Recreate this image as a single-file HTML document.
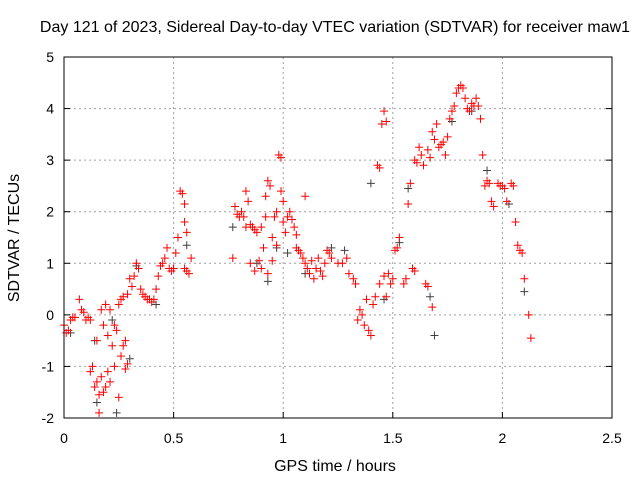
<!DOCTYPE html>
<html><head><meta charset="utf-8"><style>
body{margin:0;background:#fff;}
svg{display:block;font-family:"Liberation Sans",sans-serif;}
</style></head><body>
<svg id="chart" width="640" height="480" xmlns="http://www.w3.org/2000/svg">
<rect width="640" height="480" fill="#fff"/>
<g id="grid"></g>
<g id="ticks"></g>
<g id="series"></g>
<rect x="64" y="57" width="548" height="361" fill="none" stroke="#000" stroke-width="1"/>
<text x="335" y="32" font-size="16" text-anchor="middle">Day 121 of 2023, Sidereal Day-to-day VTEC variation (SDTVAR) for receiver maw1</text>
<text x="335" y="471" font-size="16" text-anchor="middle">GPS time / hours</text>
<text x="0" y="0" font-size="16" text-anchor="middle" transform="translate(19,238) rotate(-90)">SDTVAR / TECUs</text>
</svg>
<script>
const xTicks=[0,0.5,1,1.5,2,2.5];
const xTickLabels=["0","0.5","1","1.5","2","2.5"];
const yTicks=[-2,-1,0,1,2,3,4,5];
const yTickLabels=["-2","-1","0","1","2","3","4","5"];
const redX=[0,0.01,0.02,0.03,0.04,0.05,0.07,0.08,0.09,0.1,0.11,0.12,0.12,0.13,0.14,0.15,0.15,0.16,0.16,0.17,0.17,0.18,0.18,0.19,0.19,0.2,0.2,0.21,0.21,0.22,0.23,0.23,0.24,0.25,0.25,0.26,0.26,0.27,0.27,0.28,0.28,0.29,0.29,0.3,0.31,0.32,0.33,0.34,0.35,0.36,0.37,0.38,0.39,0.4,0.41,0.42,0.43,0.44,0.45,0.46,0.47,0.48,0.49,0.5,0.51,0.52,0.53,0.54,0.55,0.55,0.56,0.55,0.56,0.57,0.58,
0.77,0.78,0.79,0.8,0.81,0.82,0.83,0.83,0.84,0.85,0.85,0.86,0.87,0.87,0.88,0.89,0.9,0.9,0.91,0.92,0.92,0.93,0.93,0.94,0.95,0.95,0.96,0.97,0.97,0.98,0.99,0.99,1.0,1.0,1.01,1.02,1.03,1.04,1.05,1.06,1.06,1.07,1.08,1.09,1.1,1.1,1.11,1.12,1.13,1.14,1.15,1.16,1.17,1.18,1.19,1.2,1.21,1.22,1.25,1.27,1.29,1.3,1.32,1.33,
1.34,1.35,1.36,1.37,1.38,1.39,1.4,1.41,1.42,1.43,1.44,1.44,1.45,1.46,1.46,1.47,1.47,1.48,1.49,1.5,1.51,1.52,1.53,1.55,1.56,1.57,1.58,1.59,1.6,1.6,1.61,1.62,1.63,1.64,1.65,1.66,1.66,1.67,1.68,1.69,1.68,1.7,1.71,1.72,1.73,1.74,1.75,1.76,1.77,1.78,1.79,1.8,1.81,1.82,1.83,1.84,1.85,1.86,1.87,1.88,1.89,1.9,1.91,1.92,1.93,1.94,1.95,1.96,1.98,1.99,2.0,2.01,2.02,2.04,2.05,2.06,2.07,2.08,2.09,2.1,2.12,2.13];
const redY=[-0.2,-0.35,-0.3,-0.1,-0.05,-0.05,0.3,0.1,0.05,-0.1,-0.05,-1.1,-0.1,-1.0,-1.4,-0.5,-1.3,-1.9,-1.55,-1.2,0.1,-0.2,-1.5,0.2,-1.4,-1.1,-0.4,0.1,-1.3,-0.6,-0.2,-1.0,-0.3,-1.6,0.2,-0.8,0.3,-0.6,0.35,-1.05,-0.5,0.4,-0.95,0.7,0.55,0.75,1.0,0.9,0.5,0.4,0.35,0.3,0.3,0.25,0.3,0.5,0.75,0.95,1.0,1.1,1.3,0.9,0.85,0.9,1.2,1.5,2.4,2.35,2.15,1.8,1.6,0.9,0.85,0.8,1.1,
1.1,2.1,1.95,1.9,2.0,1.9,2.4,1.7,2.2,1.75,1.0,1.7,1.65,0.85,1.6,1.05,1.7,0.9,1.3,2.3,1.9,2.6,0.8,2.5,1.5,1.05,1.9,2.0,1.35,3.1,3.05,2.4,2.2,1.8,1.6,1.9,2.0,1.85,1.7,1.3,1.55,1.25,1.2,1.1,2.3,1.0,0.9,0.8,1.05,0.7,0.9,1.1,0.85,0.75,1.0,1.25,1.2,1.1,1.0,1.0,1.1,0.8,0.7,0.6,
-0.1,0.1,0.0,-0.2,0.3,-0.3,-0.4,0.2,0.35,2.9,2.85,0.6,3.7,3.95,0.75,3.75,0.35,0.8,0.6,0.7,1.25,1.3,1.5,0.6,0.7,2.15,2.55,0.9,0.85,3.0,2.95,3.25,3.1,2.9,0.6,0.55,3.2,3.05,3.55,3.4,0.15,3.7,3.25,3.3,3.35,3.1,3.45,3.8,3.95,4.05,4.3,4.4,4.45,4.4,4.2,4.0,3.95,4.1,4.05,4.2,4.05,3.8,3.1,2.5,2.6,2.55,2.2,2.1,2.55,2.5,2.5,2.45,2.2,2.55,2.5,1.8,1.35,1.25,1.2,0.7,0.0,-0.45];
const greyX=[0.03,0.14,0.15,0.22,0.24,0.3,0.33,0.42,0.5,0.56,0.77,0.88,0.93,0.97,1.02,1.1,1.22,1.28,1.4,1.46,1.53,1.57,1.67,1.69,1.77,1.86,1.93,2.03,2.1];
const greyY=[-0.35,-0.5,-1.7,-0.1,-1.9,-0.85,0.95,0.2,0.9,1.35,1.7,1.0,0.65,1.3,1.2,0.8,1.3,1.25,2.55,0.3,1.4,2.45,0.35,-0.4,3.75,3.95,2.8,2.15,0.45];
const L=64,R=612,T=57,B=418;
function sx(v){return L+(v-0)/(2.5-0)*(R-L);}
function sy(v){return B-(v+2)/(5+2)*(B-T);}
const NS="http://www.w3.org/2000/svg";
function mk(tag,attrs,parent){const e=document.createElementNS(NS,tag);for(const k in attrs)e.setAttribute(k,attrs[k]);parent.appendChild(e);return e;}
const grid=document.getElementById('grid'),ticks=document.getElementById('ticks'),ser=document.getElementById('series');
xTicks.forEach((t,i)=>{const x=sx(t);
 if(i>0&&i<xTicks.length-1){const g=mk('line',{x1:x,x2:x,y1:T,y2:B,stroke:'#a0a0a0','stroke-dasharray':'2,3'},grid);
 
 }
 const tk=mk('line',{x1:x,x2:x,y1:B,y2:B-6,stroke:'#000'},ticks);
 
 
 const tx=mk('text',{x:x,y:B+25,'font-size':14,'text-anchor':'middle'},ticks);tx.textContent=xTickLabels[i];
 
 });
yTicks.forEach((t,i)=>{const y=sy(t);
 if(i>0&&i<yTicks.length-1){const g=mk('line',{x1:L,x2:R,y1:y,y2:y,stroke:'#a0a0a0','stroke-dasharray':'2,3'},grid);
 
 }
 const tk=mk('line',{x1:L,x2:L+6,y1:y,y2:y,stroke:'#000'},ticks);
 
 
 const tk2=mk('line',{x1:R,x2:R-6,y1:y,y2:y,stroke:'#000'},ticks);
 
 
 const tx=mk('text',{x:L-10,y:y+5,'font-size':14,'text-anchor':'end'},ticks);tx.textContent=yTickLabels[i];
 
 });
function plus(x,y,c){const p=mk('path',{d:`M${x-4} ${y}h8M${x} ${y-4}v8`,stroke:c,'stroke-width':1,fill:'none'},ser);return p;}
greyX.forEach((v,i)=>{const p=plus(sx(v),sy(greyY[i]),'#404040');
 
 });
redX.forEach((v,i)=>{const p=plus(sx(v),sy(redY[i]),'#ff0000');
 
 });
</script>
</body></html>
